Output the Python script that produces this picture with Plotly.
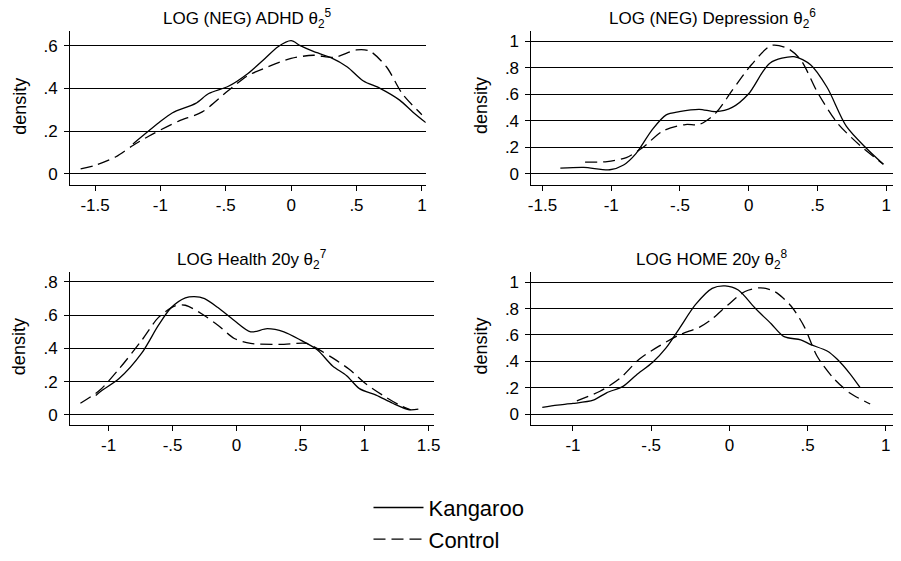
import plotly.graph_objects as go

W, H = 901, 561
FONT = "Liberation Sans, Arial, sans-serif"

titles = ["LOG (NEG) ADHD θ<sub>2</sub><sup>5</sup>",
          "LOG (NEG) Depression θ<sub>2</sub><sup>6</sup>",
          "LOG Health 20y θ<sub>2</sub><sup>7</sup>",
          "LOG HOME 20y θ<sub>2</sub><sup>8</sup>"]

# Panel 1: ADHD
adhd_k_x = [-1.21, -1.01, -0.91, -0.73, -0.63, -0.48, -0.33, -0.20, -0.10, 0.0, 0.07, 0.17, 0.30, 0.43, 0.55, 0.68, 0.83, 0.93, 1.03]
adhd_k_y = [0.14, 0.24, 0.285, 0.33, 0.376, 0.41, 0.47, 0.54, 0.595, 0.623, 0.60, 0.573, 0.545, 0.50, 0.436, 0.40, 0.345, 0.29, 0.24]
adhd_c_x = [-1.61, -1.49, -1.34, -1.21, -1.06, -0.86, -0.68, -0.48, -0.33, -0.18, 0.0, 0.17, 0.33, 0.50, 0.60, 0.73, 0.85, 1.0]
adhd_c_y = [0.023, 0.042, 0.08, 0.133, 0.186, 0.247, 0.29, 0.39, 0.46, 0.50, 0.54, 0.555, 0.545, 0.58, 0.575, 0.50, 0.375, 0.277]

# Panel 2: Depression
dep_k_x = [-1.37, -1.20, -1.01, -0.91, -0.82, -0.70, -0.60, -0.505, -0.36, -0.24, -0.12, 0.0, 0.154, 0.33, 0.45, 0.57, 0.71, 0.86, 0.98]
dep_k_y = [0.044, 0.05, 0.032, 0.068, 0.154, 0.337, 0.446, 0.47, 0.488, 0.47, 0.502, 0.605, 0.836, 0.885, 0.824, 0.654, 0.361, 0.19, 0.073]
dep_c_x = [-1.19, -1.03, -0.89, -0.77, -0.625, -0.46, -0.36, -0.24, -0.12, 0.02, 0.166, 0.286, 0.38, 0.50, 0.645, 0.81, 0.98]
dep_c_y = [0.090, 0.093, 0.124, 0.20, 0.324, 0.373, 0.373, 0.459, 0.63, 0.824, 0.97, 0.946, 0.86, 0.617, 0.385, 0.215, 0.073]

# Panel 3: Health 20y
hea_k_x = [-1.10, -1.05, -0.92, -0.74, -0.61, -0.51, -0.40, -0.33, -0.25, -0.146, -0.018, 0.11, 0.24, 0.37, 0.50, 0.63, 0.75, 0.86, 0.96, 1.09, 1.22, 1.35, 1.42]
hea_k_y = [0.117, 0.148, 0.217, 0.373, 0.54, 0.646, 0.704, 0.712, 0.70, 0.646, 0.568, 0.50, 0.519, 0.50, 0.45, 0.392, 0.295, 0.236, 0.158, 0.119, 0.07, 0.031, 0.035]
hea_c_x = [-1.22, -1.07, -0.92, -0.74, -0.61, -0.48, -0.40, -0.27, -0.146, -0.018, 0.11, 0.37, 0.55, 0.65, 0.75, 0.88, 1.01, 1.14, 1.27, 1.36]
hea_c_y = [0.07, 0.148, 0.275, 0.45, 0.587, 0.656, 0.66, 0.607, 0.54, 0.46, 0.43, 0.425, 0.43, 0.39, 0.343, 0.275, 0.187, 0.119, 0.06, 0.031]

# Panel 4: HOME 20y
home_k_x = [-1.196, -1.10, -1.0, -0.87, -0.785, -0.68, -0.596, -0.49, -0.406, -0.32, -0.217, -0.11, -0.027, 0.057, 0.162, 0.267, 0.35, 0.456, 0.52, 0.625, 0.688, 0.77, 0.835]
home_k_y = [0.051, 0.068, 0.08, 0.105, 0.161, 0.21, 0.295, 0.393, 0.50, 0.649, 0.83, 0.954, 0.973, 0.941, 0.807, 0.685, 0.587, 0.563, 0.527, 0.478, 0.417, 0.307, 0.202]
home_c_x = [-0.975, -0.827, -0.70, -0.575, -0.45, -0.32, -0.19, -0.11, -0.006, 0.10, 0.20, 0.29, 0.394, 0.48, 0.56, 0.667, 0.77, 0.90]
home_c_y = [0.10, 0.173, 0.27, 0.417, 0.515, 0.60, 0.66, 0.722, 0.832, 0.93, 0.958, 0.929, 0.82, 0.66, 0.44, 0.27, 0.16, 0.076]

series_k = [(adhd_k_x, adhd_k_y), (dep_k_x, dep_k_y), (hea_k_x, hea_k_y), (home_k_x, home_k_y)]
series_c = [(adhd_c_x, adhd_c_y), (dep_c_x, dep_c_y), (hea_c_x, hea_c_y), (home_c_x, home_c_y)]

x_ticks = [[-1.5, -1, -0.5, 0, 0.5, 1], [-1.5, -1, -0.5, 0, 0.5, 1],
           [-1, -0.5, 0, 0.5, 1, 1.5], [-1, -0.5, 0, 0.5, 1]]
x_ticktext = [["-1.5", "-1", "-.5", "0", ".5", "1"], ["-1.5", "-1", "-.5", "0", ".5", "1"],
              ["-1", "-.5", "0", ".5", "1", "1.5"], ["-1", "-.5", "0", ".5", "1"]]
y_ticks = [[0, 0.2, 0.4, 0.6], [0, 0.2, 0.4, 0.6, 0.8, 1],
           [0, 0.2, 0.4, 0.6, 0.8], [0, 0.2, 0.4, 0.6, 0.8, 1]]
y_ticktext = [["0", ".2", ".4", ".6"], ["0", ".2", ".4", ".6", ".8", "1"],
              ["0", ".2", ".4", ".6", ".8"], ["0", ".2", ".4", ".6", ".8", "1"]]

x_ranges = [[-1.69, 1.03], [-1.58, 1.05], [-1.30, 1.54], [-1.265, 1.046]]
y_ranges = [[-0.05, 0.668], [-0.08, 1.078], [-0.058, 0.86], [-0.08, 1.078]]

# pixel boxes in window coordinates: (left, right, top, bottom)
boxes = [(67, 427, 32, 190), (534, 900, 32, 190), (67, 435, 280, 437), (534, 900, 280, 437)]


def px(x):
    return x / W


def py(y):
    return 1 - y / H


fig = go.Figure()
DASH = "12px,6px"

for i in range(4):
    sfx = "" if i == 0 else str(i + 1)
    kx, ky = series_k[i]
    cx, cy = series_c[i]
    fig.add_trace(go.Scatter(x=kx, y=ky, mode="lines", name="Kangaroo",
                             line=dict(color="black", width=1.3, shape="spline", smoothing=0.8),
                             showlegend=(i == 0), legendgroup="k",
                             xaxis="x" + sfx, yaxis="y" + sfx))
    fig.add_trace(go.Scatter(x=cx, y=cy, mode="lines", name="Control",
                             line=dict(color="black", width=1.3, dash=DASH, shape="spline", smoothing=0.8),
                             showlegend=(i == 0), legendgroup="c",
                             xaxis="x" + sfx, yaxis="y" + sfx))

layout = dict(
    width=W, height=H,
    margin=dict(l=0, r=0, t=0, b=0),
    paper_bgcolor="white", plot_bgcolor="white",
    font=dict(family=FONT, size=17, color="black"),
    legend=dict(x=px(369), y=py(501), xanchor="left", yanchor="top",
                font=dict(size=22, family=FONT, color="black"), itemwidth=50,
                bgcolor="rgba(0,0,0,0)", tracegroupgap=0),
    annotations=[],
)

for i in range(4):
    sfx = "" if i == 0 else str(i + 1)
    l, r, t, b = boxes[i]
    layout["xaxis" + sfx] = dict(
        domain=[px(l), px(r)], range=x_ranges[i], anchor="y" + sfx,
        tickmode="array", tickvals=x_ticks[i], ticktext=x_ticktext[i],
        showgrid=False, zeroline=False, showline=True, linecolor="black", linewidth=1,
        ticks="outside", ticklen=5, tickcolor="black", tickwidth=1, ticklabelstandoff=0,
        tickfont=dict(size=17, family=FONT, color="black"), fixedrange=True)
    layout["yaxis" + sfx] = dict(
        domain=[py(b), py(t)], range=y_ranges[i], anchor="x" + sfx,
        tickmode="array", tickvals=y_ticks[i], ticktext=y_ticktext[i],
        showgrid=True, gridcolor="black", gridwidth=1, zeroline=False,
        showline=True, linecolor="black", linewidth=1,
        ticks="outside", ticklen=5, tickcolor="black", tickwidth=1, ticklabelstandoff=3,
        tickfont=dict(size=17, family=FONT, color="black"), fixedrange=True)
    # panel title
    layout["annotations"].append(dict(
        text=titles[i], x=px((l + r) / 2), y=py(t - 13), xref="paper", yref="paper",
        xanchor="center", yanchor="middle", showarrow=False,
        font=dict(size=17, family=FONT, color="black")))
    # y axis label
    layout["annotations"].append(dict(
        text="density", x=px(l - 51), y=py((t + b) / 2 - 2), xref="paper", yref="paper",
        xanchor="center", yanchor="middle", showarrow=False, textangle=-90,
        font=dict(size=18, family=FONT, color="black")))

fig.update_layout(**layout)
fig.write_html("out.html", config={"displayModeBar": False},
               post_script="document.body.style.margin='0';document.body.style.overflow='hidden';")
